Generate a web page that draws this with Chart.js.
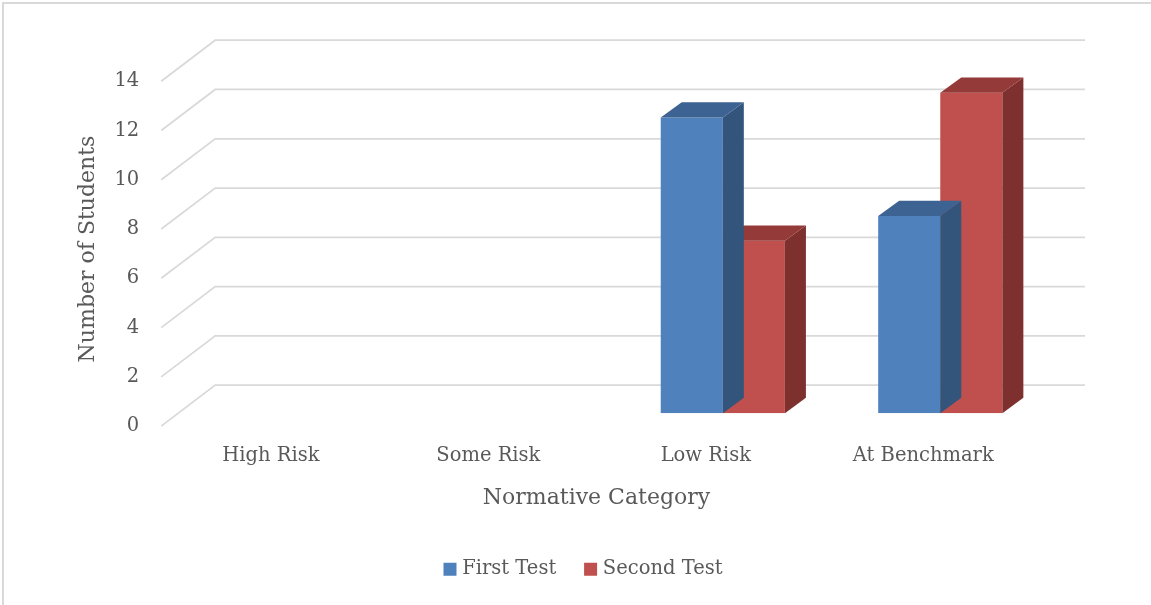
<!DOCTYPE html>
<html>
<head>
<meta charset="utf-8">
<script src="https://cdn.jsdelivr.net/npm/chart.js@4.4.1/dist/chart.umd.min.js"></script>
<style>
  html, body { margin: 0; padding: 0; background: #ffffff; }
  #wrap { position: relative; width: 1151px; height: 605px; }
</style>
</head>
<body>
<div id="wrap"><canvas id="chart"></canvas></div>
<script>
// ---- data ----
const categories = ['High Risk', 'Some Risk', 'Low Risk', 'At Benchmark'];
const firstTest = [0, 0, 12, 8];
const secondTest = [0, 0, 7, 13];
const seriesNames = ['First Test', 'Second Test'];
const yTickValues = [0, 2, 4, 6, 8, 10, 12, 14];
const xTitle = 'Normative Category';
const yTitle = 'Number of Students';

// ---- styling ----
const FONT = 'DejaVu Serif';
const TEXT = '#595959';
const GRID = '#d9d9d9';
const frontColors = ['#4f81bd', '#c0504d'];
const topColors = ['#3d6392', '#943a38'];
const sideColors = ['#33547b', '#7d302e'];
const DEPTH = { dx: 21, dy: -15.3 };   // bar depth (top / side faces)
const BACK = { dx: 36, dy: -28 };      // back wall relative to the bar plane
const FRONT = { dx: -18, dy: 13 };     // front edge of the floor
const PAD_L = 100, PAD_R = 102, PAD_T = 68.2, PAD_B = 16;
const PLANE_LEFT = 179.2;
const LEGEND_SHIFT = 10.5;

function poly(ctx, pts, color) {
  ctx.fillStyle = color;
  ctx.beginPath();
  ctx.moveTo(pts[0][0], pts[0][1]);
  for (let k = 1; k < pts.length; k++) ctx.lineTo(pts[k][0], pts[k][1]);
  ctx.closePath();
  ctx.fill();
}

// Draws the perspective walls, the bar top/side faces, the frame and axis titles.
const perspective = {
  id: 'perspective',
  afterLayout(chart) {
    // nudge the legend row so it sits under the plot rather than the canvas centre
    if (chart.legend) {
      chart.legend.left += LEGEND_SHIFT;
      chart.legend.right += LEGEND_SHIFT;
    }
  },
  beforeDraw(chart) {
    const ctx = chart.ctx;
    ctx.save();
    ctx.strokeStyle = '#d9d9d9';
    ctx.lineWidth = 2;
    ctx.beginPath();
    ctx.moveTo(3, chart.height);
    ctx.lineTo(3, 3);
    ctx.lineTo(chart.width, 3);
    ctx.stroke();
    ctx.restore();
  },
  beforeDatasetsDraw(chart) {
    const { ctx, chartArea: a, scales: { y } } = chart;
    ctx.save();
    ctx.strokeStyle = GRID;
    ctx.lineWidth = 1.75;
    y.ticks.forEach(t => {
      const py = y.getPixelForValue(t.value);
      ctx.beginPath();
      ctx.moveTo(a.left + FRONT.dx, py + FRONT.dy);
      ctx.lineTo(a.left + BACK.dx, py + BACK.dy);
      ctx.lineTo(a.right + BACK.dx, py + BACK.dy);
      ctx.stroke();
    });
    ctx.restore();
  },
  afterDatasetDraw(chart, args) {
    const ctx = chart.ctx;
    const i = args.index;
    const values = chart.data.datasets[i].data;
    ctx.save();
    args.meta.data.forEach((bar, j) => {
      if (!values[j]) return;
      const { x, y, base, width } = bar.getProps(['x', 'y', 'base', 'width'], true);
      const l = x - width / 2, r = x + width / 2;
      poly(ctx, [[r, y], [r + DEPTH.dx, y + DEPTH.dy], [r + DEPTH.dx, base + DEPTH.dy], [r, base]], sideColors[i]);
      poly(ctx, [[l, y], [r, y], [r + DEPTH.dx, y + DEPTH.dy], [l + DEPTH.dx, y + DEPTH.dy]], topColors[i]);
    });
    ctx.restore();
  },
  afterDraw(chart) {
    const ctx = chart.ctx;
    ctx.save();
    ctx.fillStyle = TEXT;
    ctx.font = '22px "' + FONT + '"';
    ctx.textAlign = 'center';
    ctx.textBaseline = 'alphabetic';
    ctx.fillText(xTitle, 596.5, 504.3);
    ctx.translate(93.5, 249);
    ctx.rotate(-Math.PI / 2);
    ctx.fillText(yTitle, 0, 0);
    ctx.restore();
  }
};

new Chart(document.getElementById('chart'), {
  type: 'bar',
  data: {
    labels: categories,
    datasets: [
      { label: seriesNames[0], data: firstTest, backgroundColor: frontColors[0], borderWidth: 0 },
      { label: seriesNames[1], data: secondTest, backgroundColor: frontColors[1], borderWidth: 0 }
    ]
  },
  options: {
    responsive: true,
    maintainAspectRatio: false,
    animation: false,
    events: [],
    datasets: { bar: { categoryPercentage: 0.571, barPercentage: 1.0 } },
    layout: { padding: { left: PAD_L, right: PAD_R, top: PAD_T, bottom: PAD_B } },
    scales: {
      x: {
        grid: { display: false, drawTicks: false },
        border: { display: false },
        ticks: {
          color: TEXT, font: { family: FONT, size: 19.5 },
          padding: 31, labelOffset: -17, maxRotation: 0, autoSkip: false
        },
        afterFit(s) { s.height = 114.5; }
      },
      y: {
        min: 0, max: 14,
        afterBuildTicks(s) { s.ticks = yTickValues.map(v => ({ value: v })); },
        grid: { display: false, drawTicks: false },
        border: { display: false },
        ticks: { color: TEXT, font: { family: FONT, size: 19.5 }, padding: 40, labelOffset: 13 },
        afterFit(s) { s.width = PLANE_LEFT - PAD_L; }
      }
    },
    plugins: {
      legend: {
        position: 'bottom',
        labels: {
          usePointStyle: true, pointStyle: 'rect',
          boxWidth: 5, boxHeight: 13, padding: 31.85,
          color: TEXT, font: { family: FONT, size: 19.5 }
        }
      },
      tooltip: { enabled: false }
    }
  },
  plugins: [perspective]
});
</script>
</body>
</html>
